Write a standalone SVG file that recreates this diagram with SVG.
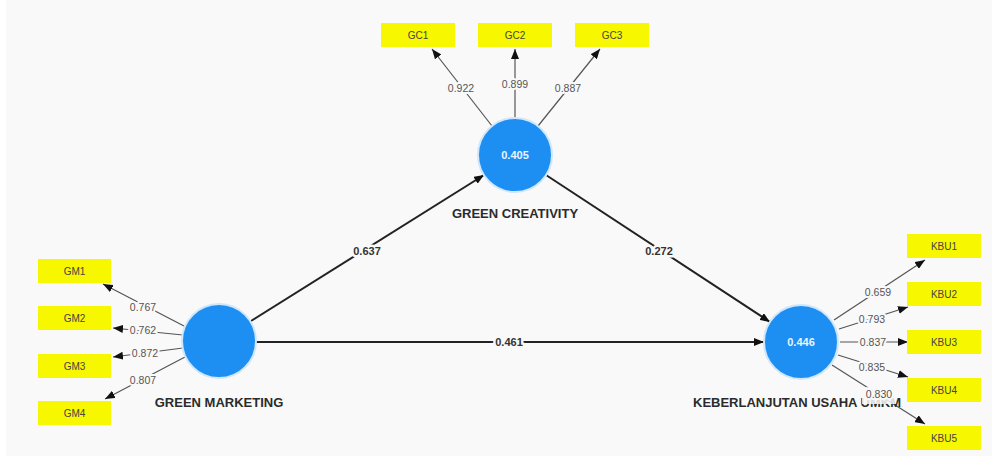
<svg xmlns="http://www.w3.org/2000/svg" width="992" height="464" viewBox="0 0 992 464">
<defs>
<marker id="ah" markerUnits="userSpaceOnUse" markerWidth="10" markerHeight="8" refX="10" refY="4" orient="auto"><path d="M0,0 L10,4 L0,8 Z" fill="#111"/></marker>
<style>
.bg{fill:#f9f9f9}
.ind rect{fill:#f7f700}
.ind text{font-family:"Liberation Sans",Arial,sans-serif;font-size:10px;fill:#444;text-anchor:middle}
.lv circle{fill:#1e8ff2;stroke:#cfe6fb;stroke-width:2}
.val{font-family:"Liberation Sans",Arial,sans-serif;font-size:11px;font-weight:bold;fill:#eaf4ff;text-anchor:middle}
.name{font-family:"Liberation Sans",Arial,sans-serif;font-size:13px;font-weight:bold;fill:#2b2b2b}
.path{stroke:#222;stroke-width:2;fill:none;marker-end:url(#ah)}
.load{stroke:#555;stroke-width:1.2;fill:none;marker-end:url(#ah)}
.pl{font-family:"Liberation Sans",Arial,sans-serif;font-size:11px;font-weight:bold;fill:#333;text-anchor:middle;paint-order:stroke;stroke:#f9f9f9;stroke-width:5px;stroke-linejoin:round}
.ll{font-family:"Liberation Sans",Arial,sans-serif;font-size:10.5px;fill:#555;text-anchor:middle;paint-order:stroke;stroke:#f9f9f9;stroke-width:4px;stroke-linejoin:round}
</style>
</defs>
<rect x="0" y="0" width="992" height="464" fill="#ffffff"/>
<rect class="bg" x="6" y="0" width="986" height="456"/>

<g id="connectors">
<line class="path" x1="251" y1="321" x2="484" y2="175"/>
<line class="path" x1="546" y1="175" x2="770" y2="322"/>
<line class="path" x1="256" y1="342" x2="764" y2="342"/>
<line class="load" x1="492" y1="126" x2="432" y2="49"/>
<line class="load" x1="515" y1="118" x2="515" y2="49"/>
<line class="load" x1="538" y1="126" x2="600" y2="49"/>
<line class="load" x1="184" y1="326" x2="103" y2="284"/>
<line class="load" x1="183" y1="335" x2="113" y2="328"/>
<line class="load" x1="183" y1="348" x2="113" y2="357"/>
<line class="load" x1="185" y1="357" x2="105" y2="399"/>
<line class="load" x1="834" y1="320" x2="925" y2="260"/>
<line class="load" x1="839" y1="329" x2="908" y2="307"/>
<line class="load" x1="840" y1="342" x2="908" y2="342"/>
<line class="load" x1="838" y1="355" x2="908" y2="377"/>
<line class="load" x1="832" y1="365" x2="925" y2="424"/>
</g>

<g id="GM">
<g class="lv"><circle cx="219" cy="341" r="37"/></g>
<text class="name" x="219" y="407" text-anchor="middle">GREEN MARKETING</text>
</g>
<g id="GC">
<g class="lv"><circle cx="515" cy="155" r="37"/></g>
<text class="val" x="515" y="159">0.405</text>
<text class="name" x="515" y="218" text-anchor="middle">GREEN CREATIVITY</text>
</g>
<g id="KBU">
<g class="lv"><circle cx="801" cy="342" r="37"/></g>
<text class="val" x="801" y="346">0.446</text>
<text class="name" x="693" y="407">KEBERLANJUTAN USAHA UMKM</text>
</g>

<g id="labels">
<text class="pl" x="367" y="255">0.637</text>
<text class="pl" x="659" y="255">0.272</text>
<text class="pl" x="509" y="346">0.461</text>
<text class="ll" x="461" y="92">0.922</text>
<text class="ll" x="515" y="88">0.899</text>
<text class="ll" x="568" y="92">0.887</text>
<text class="ll" x="143" y="311">0.767</text>
<text class="ll" x="143" y="334">0.762</text>
<text class="ll" x="145" y="357">0.872</text>
<text class="ll" x="143" y="384">0.807</text>
<text class="ll" x="878" y="296">0.659</text>
<text class="ll" x="872" y="323">0.793</text>
<text class="ll" x="873" y="346">0.837</text>
<text class="ll" x="872" y="371">0.835</text>
<rect x="862" y="387" width="34" height="17" fill="#f9f9f9" opacity="0.85"/>
<text class="ll" x="879" y="398">0.830</text>
</g>

<g id="GC1" class="ind"><rect x="381" y="23" width="74" height="24"/><text x="418" y="39">GC1</text></g>
<g id="GC2" class="ind"><rect x="478" y="23" width="74" height="24"/><text x="515" y="39">GC2</text></g>
<g id="GC3" class="ind"><rect x="575" y="23" width="74" height="24"/><text x="612" y="39">GC3</text></g>
<g id="GM1" class="ind"><rect x="38" y="259" width="73" height="24"/><text x="74.5" y="275">GM1</text></g>
<g id="GM2" class="ind"><rect x="38" y="306" width="73" height="24"/><text x="74.5" y="322">GM2</text></g>
<g id="GM3" class="ind"><rect x="38" y="354" width="73" height="24"/><text x="74.5" y="370">GM3</text></g>
<g id="GM4" class="ind"><rect x="38" y="401" width="73" height="24"/><text x="74.5" y="417">GM4</text></g>
<g id="KBU1" class="ind"><rect x="907" y="234" width="74" height="24"/><text x="944" y="250">KBU1</text></g>
<g id="KBU2" class="ind"><rect x="907" y="282" width="74" height="24"/><text x="944" y="298">KBU2</text></g>
<g id="KBU3" class="ind"><rect x="907" y="330" width="74" height="24"/><text x="944" y="346">KBU3</text></g>
<g id="KBU4" class="ind"><rect x="907" y="378" width="74" height="24"/><text x="944" y="394">KBU4</text></g>
<g id="KBU5" class="ind"><rect x="907" y="426" width="74" height="24"/><text x="944" y="442">KBU5</text></g>
</svg>
